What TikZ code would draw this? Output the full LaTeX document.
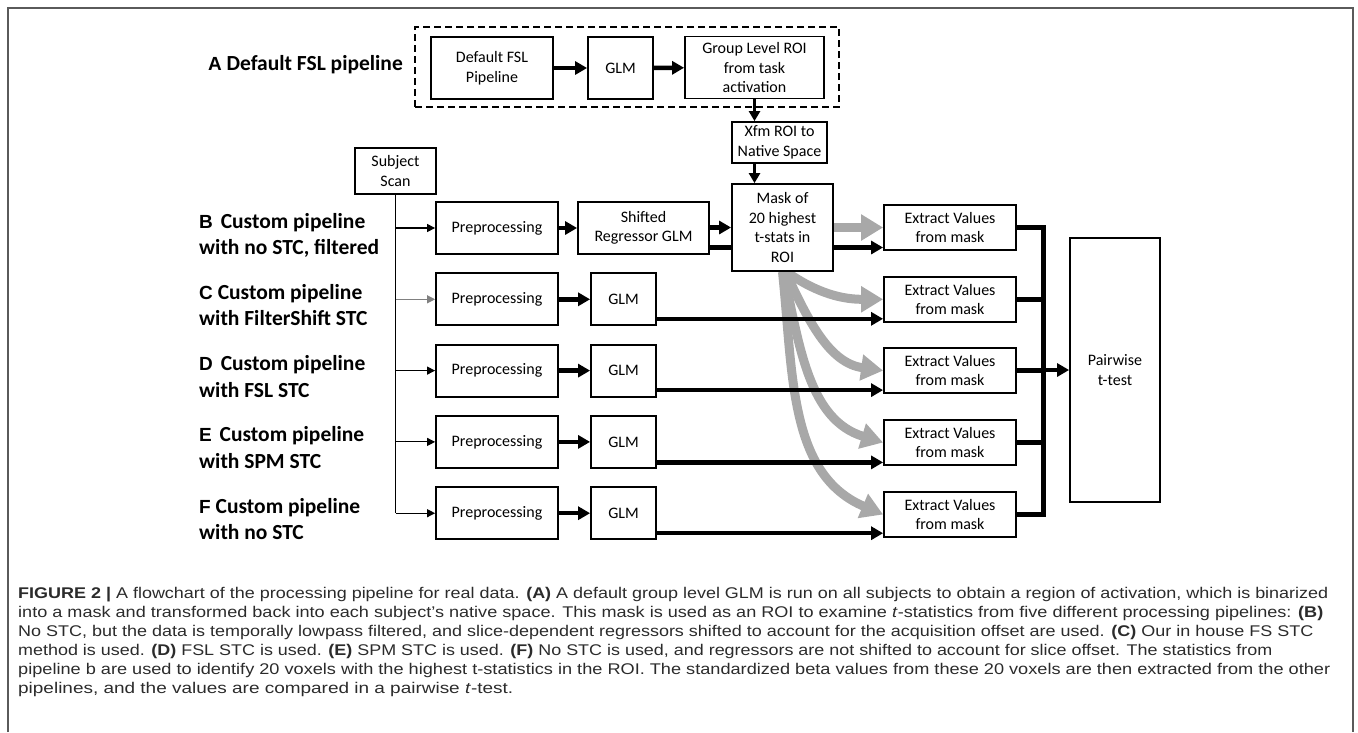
\documentclass[tikz,border=0pt]{standalone}
\usepackage{fontspec}
\usepackage{graphicx}
\setmainfont{Liberation Sans}
\newfontfamily\calfont{Carlito}
\usetikzlibrary{arrows.meta,calc}
\pgfdeclarelayer{background}
\pgfsetlayers{background,main}
\definecolor{grayc}{HTML}{A8A8A8}
\definecolor{framec}{HTML}{5A5A5A}
\definecolor{capc}{HTML}{2B2B2B}
\definecolor{branchc}{HTML}{808080}
\newcommand\figletter[1]{{\normalfont\bfseries\fontsize{19}{22}\selectfont #1}}
\newcommand\capline[2]{\resizebox{#1}{\height}{#2}}
\tikzset{
  box/.style={draw, line width=1.8pt, fill=white, inner sep=0pt, align=center,
    font=\calfont\fontsize{16}{19.5}\selectfont},
  lbl/.style={anchor=base west, inner sep=0pt, font=\calfont\bfseries\fontsize{21.5}{26}\selectfont},
  thickarrow/.style={line width=4.5pt, -{Triangle[length=12pt,width=13pt]}},
  medarrow/.style={line width=3.5pt, -{Triangle[length=10pt,width=11pt]}},
  thickline/.style={line width=5pt},
  thinarrow/.style={line width=1.1pt, -{Triangle[length=8pt,width=8pt]}},
  grayarrow/.style={line width=9pt, draw=grayc, -{Triangle[length=22pt,width=25pt]}},
  captxt/.style={anchor=base west, inner sep=0pt, font=\fontsize{15.5}{19}\selectfont, text=capc},
}
\begin{document}
\begin{tikzpicture}[x=1pt,y=-1pt]
\useasboundingbox (0,0) rectangle (1358,732);
\draw[framec, line width=1.5pt] (8,732) -- (8,8) -- (1353,8) -- (1353,732);

% group A
\node[draw, dash pattern=on 7pt off 4pt, line width=1.8pt, minimum width=424pt, minimum height=80pt, inner sep=0pt] (grpA) at (627,67) {};
\node[box, minimum width=122pt, minimum height=62pt] (deffsl) at (492,68) {Default FSL\\Pipeline};
\node[box, minimum width=65pt, minimum height=62pt] (glmA) at (620.5,68) {GLM};
\node[box, minimum width=139pt, minimum height=62pt] (roi) at (754.5,67.5) {Group Level ROI\\from task\\activation};
\node[box, minimum width=95pt, minimum height=41pt] (xfm) at (779.5,142.5) {Xfm ROI to\\Native Space};
\node[box, minimum width=101pt, minimum height=87pt] (mask) at (782.5,227.5) {Mask of\\20 highest\\t-stats in\\ROI};
\node[box, minimum width=81pt, minimum height=46pt] (subj) at (395.5,171) {Subject\\Scan};

% rows
\node[box, minimum width=122pt, minimum height=52pt] (preB) at (497,228) {Preprocessing};
\node[box, minimum width=131pt, minimum height=52pt] (shB) at (643.5,228) {Shifted\\Regressor GLM};
\node[box, minimum width=122pt, minimum height=52pt] (preC) at (497,299.3) {Preprocessing};
\node[box, minimum width=65pt, minimum height=52pt] (glmC) at (623.5,299.3) {GLM};
\node[box, minimum width=122pt, minimum height=52pt] (preD) at (497,370.6) {Preprocessing};
\node[box, minimum width=65pt, minimum height=52pt] (glmD) at (623.5,370.6) {GLM};
\node[box, minimum width=122pt, minimum height=52pt] (preE) at (497,441.9) {Preprocessing};
\node[box, minimum width=65pt, minimum height=52pt] (glmE) at (623.5,441.9) {GLM};
\node[box, minimum width=122pt, minimum height=52pt] (preF) at (497,513.2) {Preprocessing};
\node[box, minimum width=65pt, minimum height=52pt] (glmF) at (623.5,513.2) {GLM};

\node[box, minimum width=132pt, minimum height=45pt] (exB) at (950,227.5) {Extract Values\\from mask};
\node[box, minimum width=132pt, minimum height=45pt] (exC) at (950,299.3) {Extract Values\\from mask};
\node[box, minimum width=132pt, minimum height=45pt] (exD) at (950,370.6) {Extract Values\\from mask};
\node[box, minimum width=132pt, minimum height=45pt] (exE) at (950,442.5) {Extract Values\\from mask};
\node[box, minimum width=132pt, minimum height=45pt] (exF) at (950,514.5) {Extract Values\\from mask};
\node[box, minimum width=90pt, minimum height=264pt] (pw) at (1115,370) {Pairwise\\t-test};

% labels
\node[lbl, anchor=base east] (lblA) at (403,70) {\figletter{A} Default FSL pipeline};
\node[lbl] (lblB1) at (199,228) {\figletter{B}\hspace{3pt} Custom pipeline};
\node[lbl] (lblB2) at (199,254.5) {with no STC, filtered};
\node[lbl] (lblC1) at (199,299.3) {\figletter{C} Custom pipeline};
\node[lbl] (lblC2) at (199,325.8) {with FilterShift STC};
\node[lbl] (lblD1) at (199,370.6) {\figletter{D}\hspace{3pt} Custom pipeline};
\node[lbl] (lblD2) at (199,397.1) {with FSL STC};
\node[lbl] (lblE1) at (199,441.9) {\figletter{E}\hspace{3pt} Custom pipeline};
\node[lbl] (lblE2) at (199,468.4) {with SPM STC};
\node[lbl] (lblF1) at (199,513.2) {\figletter{F} Custom pipeline};
\node[lbl] (lblF2) at (199,539.7) {with no STC};

% background connectors
\begin{pgfonlayer}{background}
  \coordinate (b1) at ([yshift=-19.5pt]shB.east);
  \draw[thickarrow] (b1) -- (b1 -| exB.west);
  \draw[grayarrow] (mask.east |- exB.west) -- (exB.west);
  \draw[grayarrow] ([xshift=4pt]mask.south) to[out=-35,in=180] (exC.west);
  \draw[grayarrow] ([xshift=3pt]mask.south) to[out=-65,in=172] (exD.west);
  \draw[grayarrow] ([xshift=1pt]mask.south) to[out=-78,in=163] (exE.west);
  \draw[grayarrow] (mask.south) to[out=-84,in=157] (exF.west);
\end{pgfonlayer}

% A connectors
\draw[thickarrow] (deffsl) -- (glmA);
\draw[thickarrow] (glmA) -- (roi);
\draw[medarrow] (roi.south) -- (roi.south |- xfm.north);
\draw[medarrow] (roi.south |- xfm.south) -- (roi.south |- mask.north);

% subject tree
\draw[line width=1.1pt] (subj.south) -- (subj.south |- preF.west);
\draw[thinarrow] (subj.south |- preB.west) -- (preB.west);
\draw[thinarrow, draw=branchc] (subj.south |- preC.west) -- (preC.west);
\draw[thinarrow] (subj.south |- preD.west) -- (preD.west);
\draw[thinarrow] (subj.south |- preE.west) -- (preE.west);
\draw[thinarrow] (subj.south |- preF.west) -- (preF.west);

% preprocessing -> glm
\draw[thickarrow] (preB) -- (shB);
\draw[thickarrow] (preC) -- (glmC);
\draw[thickarrow] (preD) -- (glmD);
\draw[thickarrow] (preE) -- (glmE);
\draw[thickarrow] (preF) -- (glmF);
\draw[thickarrow] (shB.east |- mask.west) -- (mask.west);

% glm -> extract
\coordinate (c1) at ([yshift=-19.5pt]glmC.east);
\draw[thickarrow] (c1) -- (c1 -| exC.west);
\coordinate (d1) at ([yshift=-19.5pt]glmD.east);
\draw[thickarrow] (d1) -- (d1 -| exD.west);
\coordinate (e1) at ([yshift=-20.5pt]glmE.east);
\draw[thickarrow] (e1) -- (e1 -| exE.west);
\coordinate (f1) at ([yshift=-20pt]glmF.east);
\draw[thickarrow] (f1) -- (f1 -| exF.west);

% collector
\coordinate (ct) at ($(exB.east)!0.5!(exB.east -| pw.west)$);
\draw[thickline, line join=miter] (exB.east) -- (ct) -- (ct |- exF.east) -- (exF.east);
\draw[thickline] (exC.east) -- (exC.east -| ct);
\draw[thickline] (exD.east) -- (exD.east -| ct);
\draw[thickline] (exE.east) -- (exE.east -| ct);
\draw[thickarrow] (ct |- pw.west) -- (pw.west);

% caption
\node[captxt] (cap1) at (18,598.5) {\capline{1310pt}{\textbf{FIGURE 2 |} A flowchart of the processing pipeline for real data. \textbf{(A)} A default group level GLM is run on all subjects to obtain a region of activation, which is binarized}};
\node[captxt] (cap2) at (18,617.5) {\capline{1305pt}{into a mask and transformed back into each subject’s native space. This mask is used as an ROI to examine \textit{t}-statistics from five different processing pipelines: \textbf{(B)}}};
\node[captxt] (cap3) at (18,636.5) {\capline{1295pt}{No STC, but the data is temporally lowpass filtered, and slice-dependent regressors shifted to account for the acquisition offset are used. \textbf{(C)} Our in house FS STC}};
\node[captxt] (cap4) at (18,655.5) {\capline{1254pt}{method is used. \textbf{(D)} FSL STC is used. \textbf{(E)} SPM STC is used. \textbf{(F)} No STC is used, and regressors are not shifted to account for slice offset. The statistics from}};
\node[captxt] (cap5) at (18,674.5) {\capline{1312pt}{pipeline b are used to identify 20 voxels with the highest t-statistics in the ROI. The standardized beta values from these 20 voxels are then extracted from the other}};
\node[captxt] (cap6) at (18,693.5) {\capline{495pt}{pipelines, and the values are compared in a pairwise \textit{t}-test.}};
\end{tikzpicture}
\end{document}
